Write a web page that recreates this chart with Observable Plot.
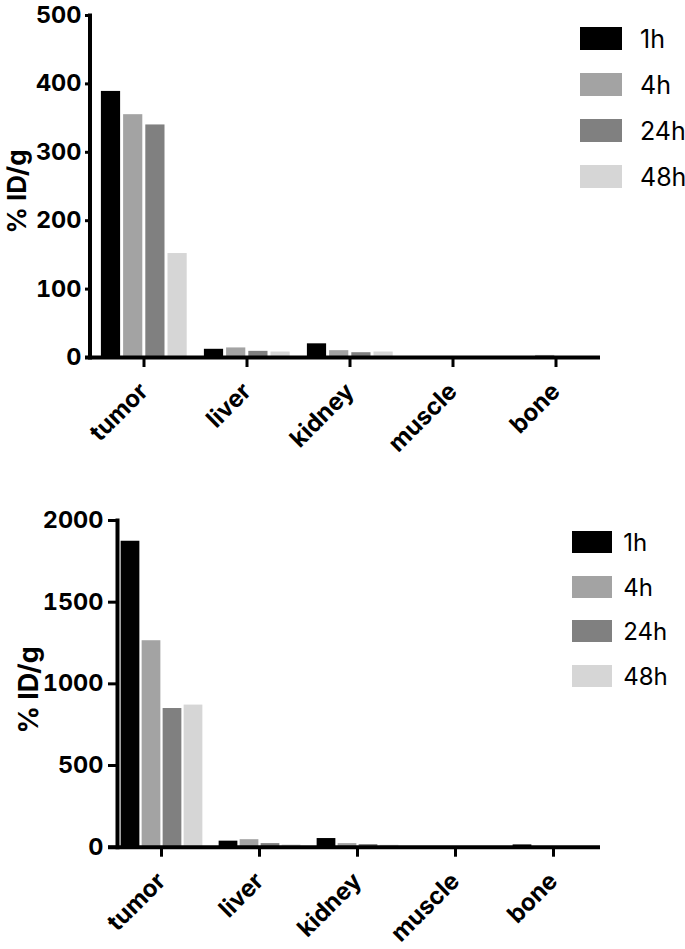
<!DOCTYPE html>
<html><head><meta charset="utf-8">
<script src="https://cdn.jsdelivr.net/npm/d3@7"></script>
<script src="https://cdn.jsdelivr.net/npm/@observablehq/plot@0.6"></script>
<style>
html,body{margin:0;padding:0;background:#fff;}
#root{position:relative;width:685px;height:949px;overflow:hidden;font-family:Inter,"Liberation Sans",Arial,sans-serif;}
.chart{position:absolute;left:0;}
.item{position:absolute;display:flex;align-items:center;color:#000;}
.sw{display:inline-block;flex:none;}
</style></head><body><div id="root"></div>
<script>
// ---- data ----
const organs = ["tumor", "liver", "kidney", "muscle", "bone"];
const times = ["1h", "4h", "24h", "48h"];
const colors = ["#000000", "#a3a3a3", "#808080", "#d6d6d6"];

// upper panel (% ID/g)
const top1h  = [389, 12, 20, 0.5, 0.5];
const top4h  = [355, 14, 10, 0.5, 3];
const top24h = [340, 9, 7, 0.5, 0.5];
const top48h = [152, 8, 8, 0.5, 0.5];
const topTicks = [0, 100, 200, 300, 400, 500];

// lower panel (% ID/g)
const bot1h  = [1873, 37, 53, 2, 14];
const bot4h  = [1264, 46, 22, 2, 3];
const bot24h = [849, 22, 16, 2, 2];
const bot48h = [870, 14, 12, 2, 2];
const botTicks = [0, 500, 1000, 1500, 2000];

const yLabel = "% ID/g";

function makeChart(cfg) {
  const series = cfg.values;
  const bw = (cfg.xRange[1] - cfg.xRange[0]) / organs.length;
  const marks = [];
  times.forEach((t, j) => {
    const rows = organs.map((o, i) => ({organ: o, time: t, value: series[j][i]}));
    const off = (j - 1.5) * cfg.step + cfg.shift;
    marks.push(Plot.barY(rows, {
      x: "organ", y: "value", fill: colors[j],
      insetLeft: bw / 2 + off - cfg.barW / 2,
      insetRight: bw / 2 - off - cfg.barW / 2
    }));
  });
  marks.push(Plot.ruleY([0], {strokeWidth: 4, insetLeft: -cfg.tickY}));
  marks.push(Plot.frame({anchor: "left", strokeWidth: 4}));
  marks.push(Plot.axisY({ticks: cfg.yTicks, tickSize: cfg.tickY, tickPadding: cfg.padY, strokeWidth: 3,
    fontSize: 23.5, fontWeight: "bold", label: null, tickFormat: d => String(d)}));
  marks.push(Plot.axisX({tickRotate: -45, tickSize: 10, tickPadding: 20, strokeWidth: 3,
    fontSize: 24, fontWeight: "bold", label: null}));
  marks.push(Plot.text([yLabel], {text: d => d, frameAnchor: "left", textAnchor: "middle", rotate: -90,
    dx: cfg.labelDx, dy: cfg.labelDy, fontSize: cfg.labelSize, fontWeight: "bold"}));
  const svg = Plot.plot({
    width: 685, height: cfg.height,
    marginLeft: cfg.marginLeft, marginRight: 85, marginTop: cfg.marginTop, marginBottom: cfg.marginBottom,
    style: {fontFamily: "Inter, 'Liberation Sans', Arial, sans-serif", background: "white", color: "black"},
    x: {domain: organs, range: cfg.xRange, padding: 0, axis: null},
    y: {domain: cfg.yDomain, axis: null},
    marks
  });
  svg.classList.add("chart");
  svg.style.top = cfg.top + "px";
  return svg;
}

function makeLegend(root, lg) {
  times.forEach((t, j) => {
    const it = document.createElement("div");
    it.className = "item";
    it.style.left = lg.left + "px";
    it.style.top = (lg.top + j * lg.step) + "px";
    it.style.height = lg.h + "px";
    const sw = document.createElement("span");
    sw.className = "sw";
    sw.style.width = lg.w + "px";
    sw.style.height = lg.h + "px";
    sw.style.background = colors[j];
    const tx = document.createElement("span");
    tx.textContent = t;
    tx.style.fontSize = lg.fs + "px";
    tx.style.marginLeft = lg.gap + "px";
    tx.style.lineHeight = "1";
    tx.style.position = "relative";
    tx.style.top = lg.ty + "px";
    it.appendChild(sw); it.appendChild(tx);
    root.appendChild(it);
  });
}

const root = document.getElementById("root");
root.appendChild(makeChart({
  values: [top1h, top4h, top24h, top48h], yDomain: [0, 500], yTicks: topTicks,
  top: 0, height: 470, marginTop: 15, marginBottom: 113, marginLeft: 89.5,
  xRange: [89.5, 608.5], barW: 20, step: 22.2, shift: 0.3,
  tickY: 4.5, padY: 4, labelDx: -72, labelDy: 5, labelSize: 26
}));
root.appendChild(makeChart({
  values: [bot1h, bot4h, bot24h, bot48h], yDomain: [0, 2000], yTicks: botTicks,
  top: 470, height: 479, marginTop: 50, marginBottom: 102.3, marginLeft: 117,
  xRange: [110.6, 604.4], barW: 19.5, step: 21, shift: 0.5,
  tickY: 9, padY: 5, labelDx: -88, labelDy: 6, labelSize: 27
}));
makeLegend(root, {left: 580, top: 26.7, step: 46, w: 42, h: 23, gap: 18, fs: 25, ty: 1});
makeLegend(root, {left: 571.7, top: 531, step: 44.5, w: 40, h: 22, gap: 11.5, fs: 24, ty: 1});
</script></body></html>
